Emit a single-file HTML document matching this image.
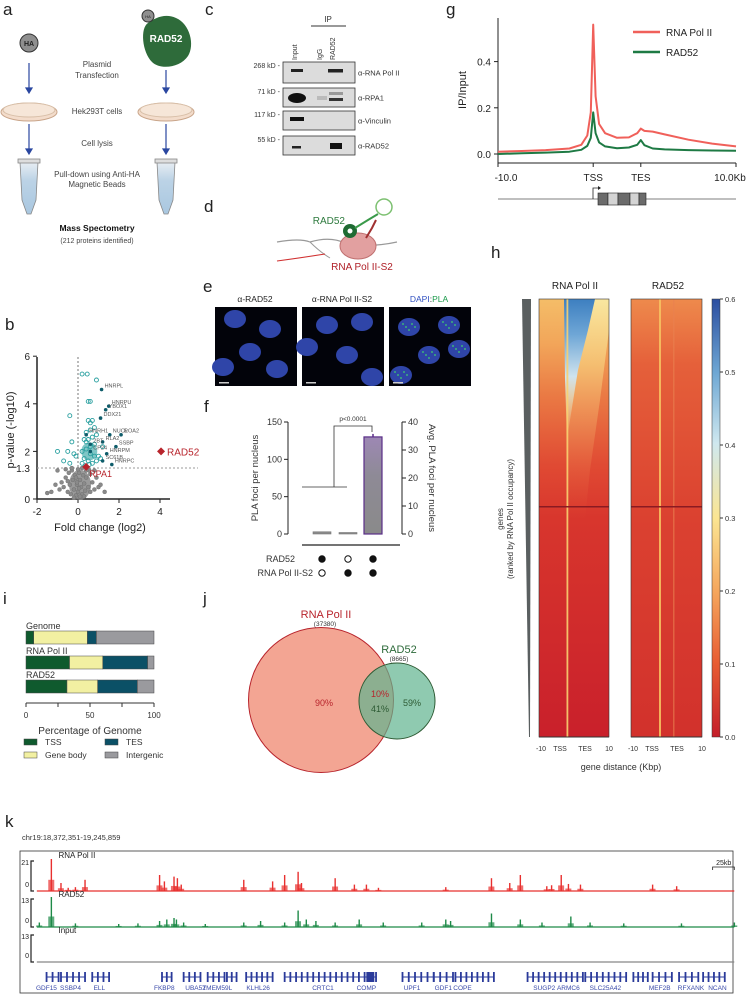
<!DOCTYPE html>
<html><head><meta charset="utf-8">
<style>
body{margin:0;background:#fff;}
svg{display:block;font-family:"Liberation Sans",sans-serif;}
.pl{font-size:17px;fill:#222;}
</style></head><body>
<svg id="fig" width="748" height="994" viewBox="0 0 748 994" xmlns="http://www.w3.org/2000/svg">
<defs>
<linearGradient id="hm1" x1="0" y1="0" x2="0" y2="1">
<stop offset="0" stop-color="#f4bd68"/><stop offset="0.1" stop-color="#f2a65a"/><stop offset="0.22" stop-color="#ea7a44"/><stop offset="0.38" stop-color="#e04a33"/><stop offset="0.5" stop-color="#d8362d"/><stop offset="1" stop-color="#c9202b"/></linearGradient>
<linearGradient id="yel" x1="0" y1="0" x2="0" y2="1">
<stop offset="0" stop-color="#f9e7a0"/><stop offset="0.3" stop-color="#f6c878" stop-opacity="0.8"/><stop offset="1" stop-color="#e8603a" stop-opacity="0"/></linearGradient>
<linearGradient id="fun" x1="0" y1="0" x2="0" y2="1">
<stop offset="0" stop-color="#3d7fc0"/><stop offset="0.25" stop-color="#6ea6d6"/><stop offset="0.55" stop-color="#cfe3ee"/><stop offset="1" stop-color="#f8e08c" stop-opacity="0"/></linearGradient>
<linearGradient id="hm2" x1="0" y1="0" x2="0" y2="1">
<stop offset="0" stop-color="#ee8a4c"/><stop offset="0.15" stop-color="#e5603a"/><stop offset="0.5" stop-color="#db4130"/><stop offset="1" stop-color="#d2312c"/></linearGradient>
<linearGradient id="cb" x1="0" y1="1" x2="0" y2="0">
<stop offset="0" stop-color="#c41e2a"/><stop offset="0.17" stop-color="#e85d33"/><stop offset="0.33" stop-color="#f5a55c"/><stop offset="0.5" stop-color="#fbe592"/><stop offset="0.67" stop-color="#cfe8ef"/><stop offset="0.83" stop-color="#6fa8d4"/><stop offset="1" stop-color="#2c4ea0"/></linearGradient>
<linearGradient id="pur" x1="0" y1="0" x2="0" y2="1">
<stop offset="0" stop-color="#9d88b4"/><stop offset="0.4" stop-color="#8e8a96"/><stop offset="1" stop-color="#8a8a8a"/></linearGradient>
<linearGradient id="tube" x1="0" y1="0" x2="0" y2="1">
<stop offset="0" stop-color="#e8eef3"/><stop offset="0.35" stop-color="#bcd3e6"/><stop offset="1" stop-color="#a9c7e0"/></linearGradient>
</defs>

<!-- panel a -->
<g>
<text class="pl" x="3" y="15">a</text>
<circle cx="29" cy="43" r="9" fill="#8f8f8f" stroke="#333"/>
<text x="29" y="46" font-size="7" font-weight="bold" text-anchor="middle" fill="#222">HA</text>
<path d="M148,23 C140,28 142,52 152,62 C160,70 180,68 188,56 C195,45 190,24 176,18 C165,13 155,18 148,23Z" fill="#2e6b3a"/>
<circle cx="148" cy="16" r="6" fill="#8f8f8f" stroke="#333"/>
<text x="148" y="18" font-size="4" text-anchor="middle" fill="#222">HA</text>
<text x="166" y="42" font-size="10" font-weight="bold" text-anchor="middle" fill="#fff">RAD52</text>
<g stroke="#2a47a0" stroke-width="1.2" fill="#2a47a0">
<line x1="29" y1="63" x2="29" y2="90"/><path d="M26,88 L32,88 L29,93Z"/>
<line x1="166" y1="70" x2="166" y2="90"/><path d="M163,88 L169,88 L166,93Z"/>
<line x1="29" y1="124" x2="29" y2="150"/><path d="M26,149 L32,149 L29,154Z"/>
<line x1="166" y1="124" x2="166" y2="150"/><path d="M163,149 L169,149 L166,154Z"/>
</g>
<g>
<ellipse cx="29" cy="112" rx="28" ry="9" fill="#f3dccb" stroke="#c9a58a"/><ellipse cx="29" cy="110" rx="26" ry="7" fill="#f6e6d8" stroke="#d8bfa8"/>
<ellipse cx="166" cy="112" rx="28" ry="9" fill="#f3dccb" stroke="#c9a58a"/><ellipse cx="166" cy="110" rx="26" ry="7" fill="#f6e6d8" stroke="#d8bfa8"/>
</g>
<g>
<path d="M20,162 L38,162 L36,200 L31,214 L27,214 L22,200Z" fill="url(#tube)" stroke="#888" stroke-width="0.8"/>
<rect x="18" y="159" width="22" height="4" fill="#ddd" stroke="#888" stroke-width="0.8"/>
<path d="M157,162 L175,162 L173,200 L168,214 L164,214 L159,200Z" fill="url(#tube)" stroke="#888" stroke-width="0.8"/>
<rect x="155" y="159" width="22" height="4" fill="#ddd" stroke="#888" stroke-width="0.8"/>
</g>
<g font-size="8" fill="#444" text-anchor="middle">
<text x="97" y="67">Plasmid</text><text x="97" y="78">Transfection</text>
<text x="97" y="114">Hek293T cells</text>
<text x="97" y="146">Cell lysis</text>
<text x="97" y="177">Pull-down using Anti-HA</text><text x="97" y="187">Magnetic Beads</text>
<text x="97" y="231" font-size="8.5" font-weight="bold" fill="#111">Mass Spectometry</text>
<text x="97" y="243" font-size="7">(212 proteins identified)</text>
</g>
</g>

<!-- panel c -->
<g>
<text class="pl" x="205" y="15">c</text>
<text x="328" y="22" font-size="8" text-anchor="middle" fill="#333">IP</text>
<line x1="311" y1="26" x2="346" y2="26" stroke="#333"/>
<g font-size="7" fill="#333">
<text transform="translate(297,60) rotate(-90)">Input</text>
<text transform="translate(322,60) rotate(-90)">IgG</text>
<text transform="translate(335,60) rotate(-90)">RAD52</text>
</g>
<g id="blots"></g>
</g>

<!-- panel g -->
<g>
<text class="pl" x="446" y="15">g</text>
<g id="gchart"></g>
</g>

<!-- panel b -->
<g>
<text class="pl" x="5" y="330">b</text>
<g id="volcano"></g>
</g>

<!-- panel d -->
<g>
<text class="pl" x="204" y="212">d</text>
<path d="M277,242 Q300,238 310,242 Q330,236 345,243 Q370,248 397,242" fill="none" stroke="#999" stroke-width="1.2"/>
<path d="M310,242 Q320,252 330,258" fill="none" stroke="#999"/>
<path d="M277,261 Q300,258 325,254" fill="none" stroke="#d03030" stroke-width="1.1"/>
<ellipse cx="358" cy="246" rx="18" ry="13" fill="#e2a0a0" stroke="#c07070"/>
<circle cx="350" cy="231" r="7" fill="#1f6b33"/>
<circle cx="350" cy="231" r="2.5" fill="#fff"/>
<path d="M355,228 L368,220 L378,214" stroke="#3a9a4a" stroke-width="2" fill="none"/>
<path d="M366,238 L372,228 L376,220" stroke="#a03030" stroke-width="2" fill="none"/>
<circle cx="384" cy="207" r="8" fill="none" stroke="#7cc070" stroke-width="1.5"/>
<text x="345" y="224" font-size="10" fill="#2e7a3e" text-anchor="end">RAD52</text>
<text x="362" y="270" font-size="10" fill="#b02028" text-anchor="middle">RNA Pol II-S2</text>
</g>

<!-- panel e -->
<g>
<text class="pl" x="203" y="292">e</text>
<g font-size="8.5" text-anchor="middle" fill="#222">
<text x="255" y="302">α-RAD52</text>
<text x="342" y="302">α-RNA Pol II-S2</text>
<text x="429" y="302"><tspan fill="#3050c0">DAPI</tspan>:<tspan fill="#1a9a4a">PLA</tspan></text>
</g>
<g id="micro"></g>
</g>

<!-- panel f -->
<g>
<text class="pl" x="204" y="412">f</text>
<g id="fchart"></g>
</g>

<!-- panel h -->
<g>
<text class="pl" x="491" y="258">h</text>
<text x="575" y="289" font-size="10" text-anchor="middle" fill="#222">RNA Pol II</text>
<text x="668" y="289" font-size="10" text-anchor="middle" fill="#222">RAD52</text>
<path d="M522,299 L531,299 L530,737 L529,737Z" fill="#5a5f60"/>
<text transform="translate(503,519) rotate(-90)" font-size="8" text-anchor="middle" fill="#333">genes</text>
<text transform="translate(513,519) rotate(-90)" font-size="8" text-anchor="middle" fill="#333">(ranked by RNA Pol II occupancy)</text>
<g>
<rect x="539" y="299" width="70" height="438" fill="url(#hm1)"/>
<path d="M565,299 L609,299 L609,330 L600,400 L590,470 L585,520 L567,520 L566,400Z" fill="url(#yel)"/>
<path d="M564,299 L595,299 L588,330 L578,370 L570,420 L567,440 L565,380Z" fill="url(#fun)"/>
<rect x="566.5" y="299" width="1.8" height="438" fill="#f8d070" opacity="0.9"/>
<rect x="539" y="506" width="70" height="1.5" fill="#8a1a22"/>
<rect x="539" y="299" width="70" height="438" fill="none" stroke="#333" stroke-width="0.6"/>
</g>
<g>
<rect x="631" y="299" width="71" height="438" fill="url(#hm2)"/>
<rect x="659" y="299" width="2" height="438" fill="#f6c060" opacity="0.9"/>
<rect x="673" y="299" width="1.5" height="438" fill="#e98050" opacity="0.6"/>
<rect x="631" y="506" width="71" height="1.5" fill="#8a1a22"/>
<rect x="631" y="299" width="71" height="438" fill="none" stroke="#333" stroke-width="0.6"/>
</g>
<rect x="712" y="299" width="8" height="438" fill="url(#cb)" stroke="#333" stroke-width="0.5"/>
<g id="cbticks"></g>
<g font-size="7" fill="#333" text-anchor="middle">
<line x1="539" y1="737" x2="609" y2="737" stroke="#333"/>
<line x1="631" y1="737" x2="702" y2="737" stroke="#333"/>
<text x="541" y="751">-10</text><text x="560" y="751">TSS</text><text x="585" y="751">TES</text><text x="609" y="751">10</text>
<text x="633" y="751">-10</text><text x="652" y="751">TSS</text><text x="677" y="751">TES</text><text x="702" y="751">10</text>
</g>
<text x="621" y="770" font-size="9" text-anchor="middle" fill="#333">gene distance (Kbp)</text>
</g>

<!-- panel i -->
<g>
<text class="pl" x="3" y="604">i</text>
<g id="ichart"></g>
</g>

<!-- panel j -->
<g>
<text class="pl" x="203" y="604">j</text>
<circle cx="321" cy="700" r="72.5" fill="#f3a593" stroke="#b8242c" stroke-width="1"/>
<circle cx="397" cy="701" r="38" fill="#5fb48e" fill-opacity="0.7" stroke="#2d5a33"/>
<text x="326" y="618" font-size="11" text-anchor="middle" fill="#b8242c">RNA Pol II</text>
<text x="325" y="626" font-size="6.5" text-anchor="middle" fill="#333">(37380)</text>
<text x="399" y="653" font-size="11" text-anchor="middle" fill="#2d6a3a">RAD52</text>
<text x="399" y="661" font-size="6.5" text-anchor="middle" fill="#333">(8665)</text>
<text x="324" y="706" font-size="9" text-anchor="middle" fill="#b8242c">90%</text>
<text x="380" y="697" font-size="9" text-anchor="middle" fill="#b8242c">10%</text>
<text x="380" y="712" font-size="9" text-anchor="middle" fill="#2d5a33">41%</text>
<text x="412" y="706" font-size="9" text-anchor="middle" fill="#2d5a33">59%</text>
</g>

<!-- panel k -->
<g>
<text class="pl" x="5" y="827">k</text>
<text x="22" y="840" font-size="7.5" fill="#333">chr19:18,372,351-19,245,859</text>
<rect x="20" y="851" width="713" height="142" fill="none" stroke="#333" stroke-width="0.8"/>
<g id="kchart"></g>
</g>

<script>
var NS="http://www.w3.org/2000/svg";
function mk(tag,attrs,parent,txt){var e=document.createElementNS(NS,tag);for(var k in attrs)e.setAttribute(k,attrs[k]);if(txt!==undefined)e.textContent=txt;parent.appendChild(e);return e;}

/* ---------- panel c blots ---------- */
var blotRows=[[62,83],[88,107],[111,130],[136,155]];
var blotKd=["268 kD -","71 kD -","117 kD -","55 kD -"];
var blotAb=["α-RNA Pol II","α-RPA1","α-Vinculin","α-RAD52"];
(function(){
var g=document.getElementById("blots");
blotRows.forEach(function(r,i){
 var b=mk("rect",{x:283,y:r[0],width:72,height:r[1]-r[0],fill:"#dcdcdc",stroke:"#333","stroke-width":0.8},g);
 
 
 mk("text",{x:280,y:r[0]+6,"font-size":7,"text-anchor":"end",fill:"#333"},g,blotKd[i]);
 var t=mk("text",{x:358,y:(r[0]+r[1])/2+3,"font-size":7.5,fill:"#333"},g,blotAb[i]);
 
 
});
mk("rect",{x:291,y:69,width:12,height:3,fill:"#222"},g);
mk("rect",{x:328,y:69,width:15,height:3.5,fill:"#222"},g);
mk("ellipse",{cx:297,cy:98,rx:9,ry:5,fill:"#111"},g);
mk("rect",{x:329,y:98,width:14,height:3,fill:"#333"},g);
mk("rect",{x:329,y:92,width:14,height:3,fill:"#999"},g);
mk("rect",{x:317,y:96,width:10,height:4,fill:"#bbb"},g);
mk("rect",{x:290,y:117,width:14,height:4,fill:"#111"},g);
mk("rect",{x:292,y:146,width:9,height:2.5,fill:"#222"},g);
mk("rect",{x:330,y:143,width:12,height:6,fill:"#111"},g);
})();

/* ---------- panel g profile ---------- */
var gBins=[-10,-8,-6,-4,-3,-2.5,-2.2,-2,-1.8,-1.5,-1,0,1,1.7,2,2.3,3,4,6,8,10];
var gPolII=[0.01,0.013,0.017,0.024,0.04,0.08,0.18,0.56,0.25,0.13,0.09,0.07,0.072,0.09,0.11,0.1,0.097,0.085,0.062,0.045,0.033];
var gRad52=[0.0,0.003,0.006,0.01,0.018,0.035,0.07,0.18,0.09,0.05,0.033,0.025,0.028,0.04,0.06,0.038,0.024,0.02,0.017,0.015,0.014];
var gYTicks=[0.0,0.2,0.4];
var gXTicks=[[-10,"-10.0"],[-2,"TSS"],[2,"TES"],[10,"10.0Kb"]];
(function(){
var g=document.getElementById("gchart");
function X(b){return 498+(b+10)/20*238;}
function Y(v){return 154-v*231;}
var ax=mk("path",{d:"M498,18 L498,163 L736,163",fill:"none",stroke:"#222","stroke-width":1},g);


gYTicks.forEach(function(v){
 mk("line",{x1:494,x2:498,y1:Y(v),y2:Y(v),stroke:"#222"},g);
 var t=mk("text",{x:491,y:Y(v)+4,"font-size":10,"text-anchor":"end",fill:"#222"},g,v.toFixed(1));
 
 
});
gXTicks.forEach(function(p){
 mk("line",{x1:X(p[0]),x2:X(p[0]),y1:163,y2:167,stroke:"#222"},g);
 var t=mk("text",{x:X(p[0])+(p[0]==-10?8:p[0]==10?-6:0),y:181,"font-size":10,"text-anchor":"middle",fill:"#222"},g,p[1]);
 
 
});
var yl=mk("text",{transform:"translate(466,90) rotate(-90)","font-size":11,"text-anchor":"middle",fill:"#222"},g,"IP/Input");


function line(vals,col,name){
 var d=vals.map(function(v,i){return (i?"L":"M")+X(gBins[i]).toFixed(1)+","+Y(v).toFixed(1);}).join(" ");
 var p=mk("path",{d:d,fill:"none",stroke:col,"stroke-width":2,"stroke-linejoin":"round"},g);
 
 
}
line(gPolII,"#f0605a","line-rna-pol-ii");
line(gRad52,"#1e7a44","line-rad52");
var l1=mk("line",{x1:633,x2:660,y1:32,y2:32,stroke:"#f0605a","stroke-width":2.5},g);


mk("text",{x:666,y:36,"font-size":10,fill:"#222"},g,"RNA Pol II");
var l2=mk("line",{x1:633,x2:660,y1:52,y2:52,stroke:"#1e7a44","stroke-width":2.5},g);


mk("text",{x:666,y:56,"font-size":10,fill:"#222"},g,"RAD52");
mk("line",{x1:498,x2:736,y1:199,y2:199,stroke:"#555","stroke-width":0.8},g);
mk("path",{d:"M593,199 L593,188 L599,188",fill:"none",stroke:"#222","stroke-width":0.8},g);
mk("path",{d:"M598,186 L601,188 L598,190Z",fill:"#222"},g);
var cols=["#6b6b6b","#d4d4d4","#6b6b6b","#d4d4d4","#6b6b6b"],w=[10,10,12,9,7],x0=598;
cols.forEach(function(c,i){mk("rect",{x:x0,y:193,width:w[i],height:12,fill:c,stroke:"#222","stroke-width":0.6},g);x0+=w[i];});
})();

/* ---------- panel b volcano ---------- */
var vGrayX=[-1.5,-1.3,-1.1,-0.9,-0.8,-0.7,-0.6,-0.5,-0.45,-0.4,-0.35,-0.3,-0.25,-0.2,-0.15,-0.1,-0.05,0,0.05,0.1,0.15,0.2,0.25,0.3,0.35,0.4,0.5,0.55,0.6,0.7,0.8,0.9,1.0,1.1,1.3,-0.6,-0.3,0,0.2,0.4,-0.2,0.1,0.3,-0.1,0.6,-1.0,-0.5,0.8,0.05,-0.05];
var vGrayY=[0.25,0.3,0.6,0.4,0.7,0.5,0.9,0.3,1.1,0.6,0.2,1.2,0.8,0.4,1.0,0.15,0.6,0.3,1.1,0.8,0.5,0.2,1.0,0.65,0.35,0.9,0.5,1.2,0.3,0.7,0.4,0.9,0.5,0.6,0.3,1.25,1.3,1.25,1.3,1.2,0.05,0.1,0.1,0.9,1.05,1.2,0.75,1.2,0.45,0.7];
var vTealX=[0.2,0.45,0.9,-0.4,0.5,0.6,0.5,0.7,0.6,0.8,0.6,0.4,0.9,0.7,0.3,0.5,-0.3,-0.5,-1.0,-0.2,0.2,0.4,0.6,0.8,1.0,0.3,0.5,0.7,-0.7,-0.4,0.2,0.9,1.1,0.4,0.8,1.2,0.6,-0.1,0.35,0.55];
var vTealY=[5.25,5.25,5.0,3.5,4.1,4.1,3.3,3.3,3.2,3.0,2.9,2.8,2.7,2.6,2.5,2.5,2.4,2.0,2.0,1.9,2.0,2.1,1.9,1.8,1.8,1.7,1.6,1.5,1.6,1.5,1.5,1.6,1.7,2.4,2.3,2.2,2.2,1.8,1.4,1.45];
var vHitNames=["HNRPL","HNRPU","YBOX1","DDX21","NUCL","ROA2","HNRH1","RLA2","2BT","SSBP","CP24","HNRPM","SC61B","HNRPC"];
var vHitX=[1.15,1.5,1.35,1.1,1.55,2.1,0.4,1.2,0.6,1.85,0.6,1.4,1.2,1.65];
var vHitY=[4.6,3.9,3.75,3.4,2.7,2.7,2.7,2.4,2.3,2.2,2.0,1.9,1.6,1.45];
var vRad52=[4.05,2.0];
var vRpa1=[0.4,1.35];
(function(){
var g=document.getElementById("volcano");
function X(v){return 78+v*20.5;}
function Y(v){return 499-v*23.8;}
var ax=mk("path",{d:"M37,357 L37,499 L170,499",fill:"none",stroke:"#222","stroke-width":1.5},g);


[0,2,4,6].forEach(function(v){mk("line",{x1:33,x2:37,y1:Y(v),y2:Y(v),stroke:"#222"},g);mk("text",{x:30,y:Y(v)+4,"font-size":10,"text-anchor":"end",fill:"#222"},g,String(v));});
mk("text",{x:30,y:Y(1.3)+4,"font-size":10,"text-anchor":"end",fill:"#222"},g,"1.3");
[-2,0,2,4].forEach(function(v){mk("line",{x1:X(v),x2:X(v),y1:499,y2:503,stroke:"#222"},g);mk("text",{x:X(v),y:515,"font-size":10,"text-anchor":"middle",fill:"#222"},g,String(v));});
var xt=mk("text",{x:100,y:531,"font-size":11,"text-anchor":"middle",fill:"#222"},g,"Fold change (log2)");


var yt=mk("text",{transform:"translate(14,430) rotate(-90)","font-size":11,"text-anchor":"middle",fill:"#222"},g,"p-value (-log10)");


mk("line",{x1:X(0),x2:X(0),y1:357,y2:499,stroke:"#777","stroke-dasharray":"2,2"},g);
mk("line",{x1:37,x2:198,y1:Y(1.3),y2:Y(1.3),stroke:"#999","stroke-dasharray":"2,2"},g);
mk("ellipse",{cx:X(0.1),cy:Y(0.6),rx:11,ry:15,fill:"#888",opacity:0.85},g);
vGrayX.forEach(function(x,i){var c=mk("circle",{cx:X(x),cy:Y(vGrayY[i]),r:2,fill:"#8a8a8a",stroke:"#6a6a6a","stroke-width":0.4},g);
 
 });
mk("ellipse",{cx:X(0.55),cy:Y(2.0),rx:8,ry:9,fill:"#2aa0a0",opacity:0.6},g);
vTealX.forEach(function(x,i){var c=mk("circle",{cx:X(x),cy:Y(vTealY[i]),r:2,fill:"none",stroke:"#2aa0a0","stroke-width":0.9},g);
 
 });
vHitX.forEach(function(x,i){var c=mk("circle",{cx:X(x),cy:Y(vHitY[i]),r:1.8,fill:"#0e5c6a"},g);
 
 
 mk("text",{x:X(x)+3,y:Y(vHitY[i])-2,"font-size":5.5,fill:"#555"},g,vHitNames[i]);});
var r=mk("path",{d:"M"+X(vRad52[0])+","+(Y(vRad52[1])-4)+" l4,4 l-4,4 l-4,-4Z",fill:"#b8242c"},g);


mk("text",{x:X(vRad52[0])+6,y:Y(vRad52[1])+4,"font-size":10,fill:"#b8242c"},g,"RAD52");
var p=mk("path",{d:"M"+X(vRpa1[0])+","+(Y(vRpa1[1])-4)+" l4,4 l-4,4 l-4,-4Z",fill:"#b8242c"},g);


mk("text",{x:X(vRpa1[0])+3,y:Y(vRpa1[1])+10,"font-size":9,fill:"#b8242c"},g,"RPA1");
})();

/* ---------- panel e micrographs ---------- */
var microX=[215,302,389];
var microNuclei=[[[20,12],[55,22],[35,45],[62,62],[8,60]],[[25,18],[60,15],[45,48],[70,70],[5,40]],[[20,20],[60,18],[40,48],[70,42],[12,68]]];
(function(){
var g=document.getElementById("micro");
microX.forEach(function(x0,k){
 var r=mk("rect",{x:x0,y:307,width:82,height:79,fill:"#02030a"},g);
 
 
 microNuclei[k].forEach(function(n){mk("ellipse",{cx:x0+n[0],cy:307+n[1],rx:11,ry:9,fill:"#2f45a8"},g);
  if(k==2){for(var j=0;j<5;j++)mk("circle",{cx:x0+n[0]-6+j*3,cy:307+n[1]-3+(j%3)*3,r:0.9,fill:"#3fd070"},g);}});
 mk("rect",{x:x0+4,y:382,width:10,height:1.5,fill:"#ccc"},g);
});
})();

/* ---------- panel f bars ---------- */
var fBarX=[322,348,373];
var fBarVals=[3,2,130];
var fLeftTicks=[0,50,100,150];
var fRightTicks=[0,10,20,30,40];
var fRad52=[1,0,1];
var fPol=[0,1,1];
(function(){
var g=document.getElementById("fchart");
function Y(v){return 534-v*112/150;}
function YR(v){return 534-v*112/40;}
var a=mk("line",{x1:288,x2:288,y1:422,y2:534,stroke:"#222"},g);


fLeftTicks.forEach(function(v){mk("line",{x1:284,x2:288,y1:Y(v),y2:Y(v),stroke:"#222"},g);mk("text",{x:282,y:Y(v)+3,"font-size":9,"text-anchor":"end",fill:"#333"},g,String(v));});
var b=mk("line",{x1:402,x2:402,y1:422,y2:534,stroke:"#222"},g);


fRightTicks.forEach(function(v){mk("line",{x1:402,x2:406,y1:YR(v),y2:YR(v),stroke:"#222"},g);mk("text",{x:408,y:YR(v)+3,"font-size":9,fill:"#333"},g,String(v));});
mk("text",{transform:"translate(258,478) rotate(-90)","font-size":9.5,"text-anchor":"middle",fill:"#333"},g,"PLA foci per nucleus");
mk("text",{transform:"translate(429,478) rotate(90)","font-size":9.5,"text-anchor":"middle",fill:"#333"},g,"Avg. PLA foci per nucleus");
fBarX.forEach(function(x,i){
 var big=fBarVals[i]>20;
 var r=mk("rect",{x:x-9,y:Y(fBarVals[i]),width:18,height:534-Y(fBarVals[i]),fill:big?"url(#pur)":"#8a8a8a",stroke:big?"#5a2e88":"#777","stroke-width":big?1.2:0.6},g);
 
 
 if(big){mk("line",{x1:x,x2:x,y1:Y(fBarVals[i])-3,y2:Y(fBarVals[i]),stroke:"#5a2e88","stroke-width":1.5},g);}
 var d1=mk("circle",{cx:x,cy:559,r:3.2,fill:fRad52[i]?"#111":"#fff",stroke:"#111","stroke-width":1},g);
 
 
 var d2=mk("circle",{cx:x,cy:573,r:3.2,fill:fPol[i]?"#111":"#fff",stroke:"#111","stroke-width":1},g);
 
 
});
mk("path",{d:"M334,487 L334,426 L372,426 L372,432",fill:"none",stroke:"#333","stroke-width":0.8},g);
mk("line",{x1:302,x2:347,y1:487,y2:487,stroke:"#333","stroke-width":0.8},g);
mk("text",{x:353,y:421,"font-size":6.5,"text-anchor":"middle",fill:"#333"},g,"p<0.0001");
mk("line",{x1:302,x2:400,y1:545,y2:545,stroke:"#222","stroke-width":1.2},g);
mk("text",{x:295,y:562,"font-size":9,"text-anchor":"end",fill:"#333"},g,"RAD52");
mk("text",{x:313,y:576,"font-size":9,"text-anchor":"end",fill:"#333"},g,"RNA Pol II-S2");
})();

/* ---------- colorbar ticks ---------- */
var cbTicks=[0.0,0.1,0.2,0.3,0.4,0.5,0.6];
(function(){
var g=document.getElementById("cbticks");
cbTicks.forEach(function(v){var y=737-v/0.6*438;mk("line",{x1:720,x2:723,y1:y,y2:y,stroke:"#333"},g);
 var t=mk("text",{x:725,y:y+3,"font-size":7.5,fill:"#333"},g,v.toFixed(1));
 
 });
})();

/* ---------- panel i stacked bars ---------- */
var iCats=["Genome","RNA Pol II","RAD52"];
var iTSS=[6,34,32];
var iBody=[42,26,24];
var iTES=[7,35,31];
var iInter=[45,5,13];
var iColors=["#0f5a2e","#f2f0a2","#0b5066","#9a9a9e"];
var iLegend=["TSS","Gene body","TES","Intergenic"];
(function(){
var g=document.getElementById("ichart");
function X(v){return 26+v*1.28;}
var ys=[631,656,680];
iCats.forEach(function(c,i){
 mk("text",{x:26,y:ys[i]-2,"font-size":9,fill:"#333"},g,c);
 var segs=[iTSS[i],iBody[i],iTES[i],iInter[i]],acc=0;
 segs.forEach(function(s,j){var r=mk("rect",{x:X(acc),y:ys[i],width:s*1.28,height:13,fill:iColors[j],stroke:"#444","stroke-width":0.5},g);
  
  
  acc+=s;});
});
mk("line",{x1:26,x2:154,y1:703,y2:703,stroke:"#333"},g);
[0,25,50,75,100].forEach(function(v){mk("line",{x1:X(v),x2:X(v),y1:703,y2:707,stroke:"#333"},g);if(v%50==0)mk("text",{x:X(v),y:718,"font-size":8,"text-anchor":"middle",fill:"#333"},g,String(v));});
var t=mk("text",{x:90,y:734,"font-size":10,"text-anchor":"middle",fill:"#333"},g,"Percentage of Genome");


var pos=[[24,745],[24,758],[105,745],[105,758]];
iLegend.forEach(function(n,j){var r=mk("rect",{x:pos[j][0],y:pos[j][1]-6,width:13,height:6,fill:iColors[j],stroke:"#444","stroke-width":0.5},g);
 
 
 mk("text",{x:pos[j][0]+21,y:pos[j][1],"font-size":8.5,fill:"#333"},g,n);});
})();

/* ---------- panel k browser tracks ---------- */
var kPolPos=[110,130,145,160,180,335,345,365,372,380,510,570,595,623,630,700,740,765,790,930,1025,1063,1085,1140,1150,1170,1185,1210,1360,1410];
var kPolVal=[1.0,0.25,0.1,0.12,0.35,0.5,0.3,0.45,0.4,0.2,0.35,0.3,0.5,0.6,0.25,0.4,0.2,0.2,0.1,0.12,0.4,0.25,0.5,0.15,0.18,0.5,0.22,0.2,0.2,0.15];
var kRadPos=[85,110,160,250,290,335,350,365,370,385,430,510,545,595,623,640,660,700,750,800,880,930,940,1025,1085,1130,1190,1230,1300,1420,1530];
var kRadVal=[0.15,1.0,0.12,0.1,0.12,0.2,0.25,0.3,0.25,0.15,0.1,0.15,0.2,0.15,0.55,0.25,0.2,0.15,0.25,0.15,0.15,0.25,0.2,0.45,0.25,0.15,0.35,0.15,0.12,0.12,0.15];
var kGenes=["GDF15","SSBP4","ELL","FKBP8","UBA52","TMEM59L","KLHL26","CRTC1","COMP","UPF1","GDF1","COPE","SUGP2","ARMC6","SLC25A42","MEF2B","RFXANK","NCAN"];
var kGenePos=[100,150,210,345,410,455,540,675,765,860,925,965,1135,1185,1262,1375,1440,1495];
var kSpanStart=[100,130,195,340,385,435,475,515,595,840,905,950,1100,1220,1320,1360,1415,1465];
var kSpanEnd=[125,180,230,360,420,470,495,570,785,905,945,1030,1215,1305,1350,1400,1455,1510];
(function(){
var g=document.getElementById("kchart");
function X(z){return 20+(z-45)*0.481;}
var base=[891,927,962],top=[859,897,933],cols=["#e8302f","#1e8a48","#888"],names=["RNA Pol II","RAD52","Input"],maxs=["21","13","13"];
for(var t=0;t<3;t++){
 var bl=mk("line",{x1:X(80),x2:X(1530),y1:base[t],y2:base[t],stroke:cols[t],"stroke-width":1.2},g);
 
 
 mk("path",{d:"M34,"+(top[t]+2)+" L31,"+(top[t]+2)+" L31,"+base[t]+" L34,"+base[t],fill:"none",stroke:"#222","stroke-width":1.2},g);
 mk("text",{x:29,y:top[t]+6,"font-size":7,"text-anchor":"end",fill:"#222"},g,maxs[t]);
 mk("text",{x:29,y:base[t]-4,"font-size":7,"text-anchor":"end",fill:"#222"},g,"0");
 mk("text",{x:X(125),y:top[t]-(t==0?1:0),"font-size":8,fill:"#222"},g,names[t]);
}
function peaks(pos,val,t,name){var h=base[t]-top[t];pos.forEach(function(p,i){
 var r=mk("rect",{x:X(p)-0.6,y:base[t]-val[i]*h,width:1.4,height:val[i]*h,fill:cols[t]},g);
 
 
 mk("rect",{x:X(p)-3,y:base[t]-val[i]*h*0.35,width:6,height:val[i]*h*0.35,fill:cols[t],opacity:0.7},g);});}
peaks(kPolPos,kPolVal,0,"peak-rna-pol-ii");
peaks(kRadPos,kRadVal,1,"peak-rad52");
mk("path",{d:"M"+X(1485)+",870 L"+X(1485)+",867 L"+X(1530)+",867 L"+X(1530)+",870",fill:"none",stroke:"#222","stroke-width":0.8},g);
mk("text",{x:X(1508),y:865,"font-size":7,"text-anchor":"middle",fill:"#222"},g,"25kb");
kSpanStart.forEach(function(s,i){
 var l=mk("line",{x1:X(s),x2:X(kSpanEnd[i]),y1:977,y2:977,stroke:"#2a3a9a","stroke-width":1},g);
 
 
 var n=Math.max(2,Math.round((kSpanEnd[i]-s)/12));
 for(var j=0;j<=n;j++){mk("rect",{x:X(s+(kSpanEnd[i]-s)*j/n)-0.8,y:972,width:1.8,height:10,fill:"#2a3a9a"},g);}
});
mk("rect",{x:X(765),y:972,width:8,height:10,fill:"#2a3a9a"},g);
kGenes.forEach(function(n,i){var t=mk("text",{x:X(kGenePos[i]),y:990,"font-size":6.5,fill:"#3a4aa8","text-anchor":"middle"},g,n);
 
 });
})();
</script>
</svg>
</body></html>
